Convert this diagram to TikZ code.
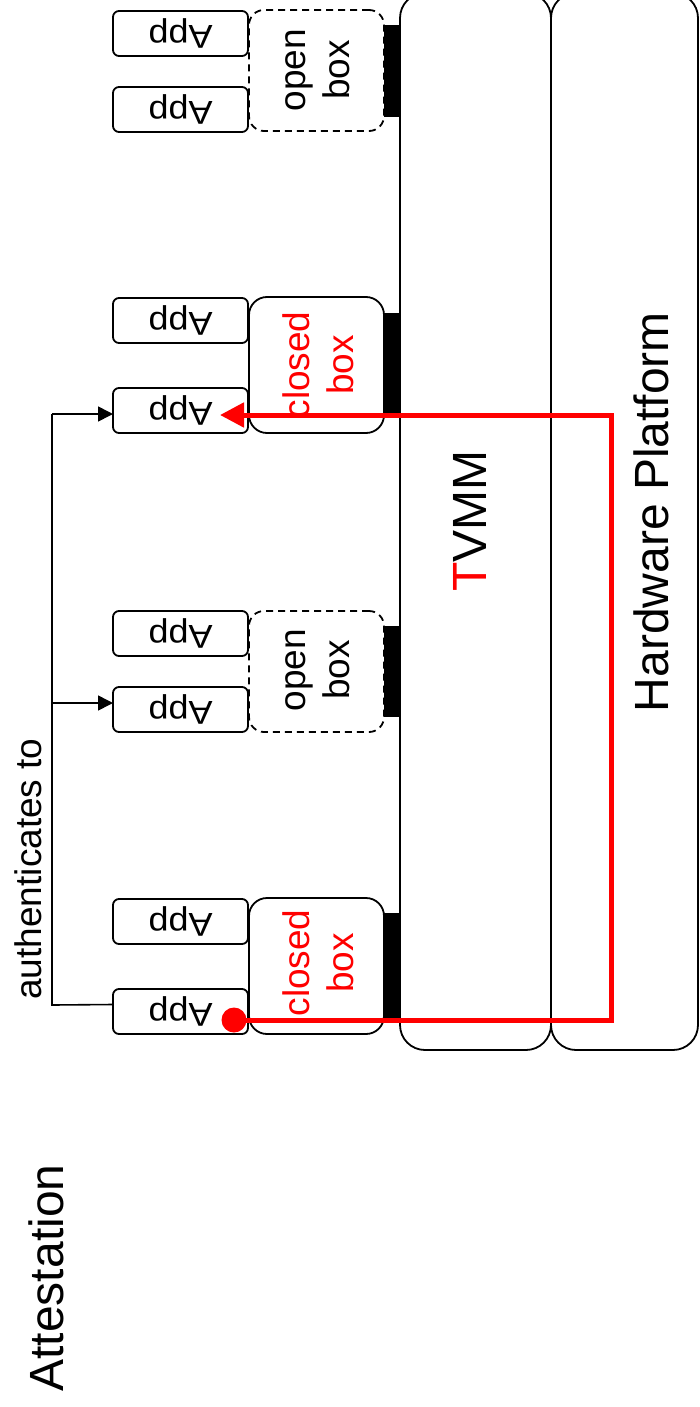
\documentclass[tikz,border=0pt]{standalone}
\usepackage{fontspec}
\setmainfont{Liberation Sans}
\usetikzlibrary{arrows.meta}
\begin{document}
\begin{tikzpicture}[x=1pt,y=-1pt,
  appbox/.style={draw, line width=1.8pt, rounded corners=6pt, minimum width=135pt, minimum height=45pt, inner sep=0pt, outer sep=0pt, anchor=north west, font=\fontsize{36}{44}\selectfont},
  closedbox/.style={draw, line width=1.8pt, rounded corners=18pt, minimum width=135pt, minimum height=136pt, inner sep=0pt, outer sep=0pt, anchor=north west},
  openbox/.style={draw, line width=1.8pt, dash pattern=on 7pt off 5pt, rounded corners=15pt, minimum width=135pt, minimum height=121pt, inner sep=0pt, outer sep=0pt, anchor=north west},
  boxlabel/.style={rotate=90, align=center, inner sep=0pt, font=\fontsize{37}{44}\selectfont},
  bar/.style={fill=black, draw=none, minimum width=16pt, inner sep=0pt, outer sep=0pt, anchor=north west},
  layer/.style={draw, line width=1.8pt, rounded corners=25pt, minimum height=1057pt, inner sep=0pt, outer sep=0pt, anchor=north west},
  biglabel/.style={rotate=90, inner sep=0pt, font=\fontsize{48}{56}\selectfont},
  conn/.style={line width=1.6pt},
  redline/.style={draw=red, line width=5pt},
]
\useasboundingbox (0,0) rectangle (700,1407);
\newcommand{\apptext}{\rotatebox{180}{\scalebox{1}[0.92]{App}}}

% layers
\node[layer, minimum width=151pt] (tvmm) at (400,-7) {};
\node[layer, minimum width=147pt] (hw) at (551,-7) {};
\node[biglabel] (tvmmt) at (470,521) {\textcolor{red}{T}VMM};
\node[biglabel] (hwt) at (651,512) {Hardware Platform};

% bars
\node[bar, minimum height=106pt] (b1) at (384,913) {};
\node[bar, minimum height=91pt] (b2) at (384,626) {};
\node[bar, minimum height=105pt] (b3) at (384,313) {};
\node[bar, minimum height=92pt] (b4) at (384,25) {};

% group 1 closed
\node[closedbox] (c1) at (249,898) {};
\node[boxlabel, red] (c1t) at (318,963) {closed\\box};
\node[appbox] (app1a) at (113,899) {\apptext};
\node[appbox] (app1b) at (113,989) {\apptext};

% group 2 open
\node[openbox] (o2) at (249,611) {};
\node[boxlabel] (o2t) at (318,670) {open\\box};
\node[appbox] (app2a) at (113,611) {\apptext};
\node[appbox] (app2b) at (113,687) {\apptext};

% group 3 closed
\node[closedbox] (c3) at (249,297) {};
\node[boxlabel, red] (c3t) at (318,365) {closed\\box};
\node[appbox] (app3a) at (113,298) {\apptext};
\node[appbox] (app3b) at (113,388) {\apptext};

% group 4 open
\node[openbox] (o4) at (249,10) {};
\node[boxlabel] (o4t) at (318,70) {open\\box};
\node[appbox] (app4a) at (113,11) {\apptext};
\node[appbox] (app4b) at (113,87) {\apptext};

% authenticates to
\coordinate (trunkb) at (52,1005);
\coordinate (trunkm) at (52,703);
\coordinate (trunkt) at (52,414);
\draw[conn] ([yshift=7pt]app1b.west) -- (trunkb) -- (trunkt);
\draw[conn, -{Triangle[length=15pt,width=15pt]}] (trunkt) -- (app3b.west |- trunkt);
\draw[conn, -{Triangle[length=15pt,width=15pt]}] (trunkm) -- (app2b.west |- trunkm);
\node[rotate=90, inner sep=0pt, font=\fontsize{37}{44}\selectfont] (auth) at (28,869) {authenticates to};

% title
\node[biglabel] (title) at (46,1278) {Attestation};

% red path
\coordinate (rstart) at (234,1020);
\coordinate (rc1) at (611,1020);
\coordinate (rc2) at (611,415);
\coordinate (rend) at (220,415);
\draw[redline, -{Triangle[length=24pt,width=24pt]}] (rstart) -- (rc1) -- (rc2) -- (rend);
\fill[red] (rstart) circle (12.5pt);
\end{tikzpicture}
\end{document}
